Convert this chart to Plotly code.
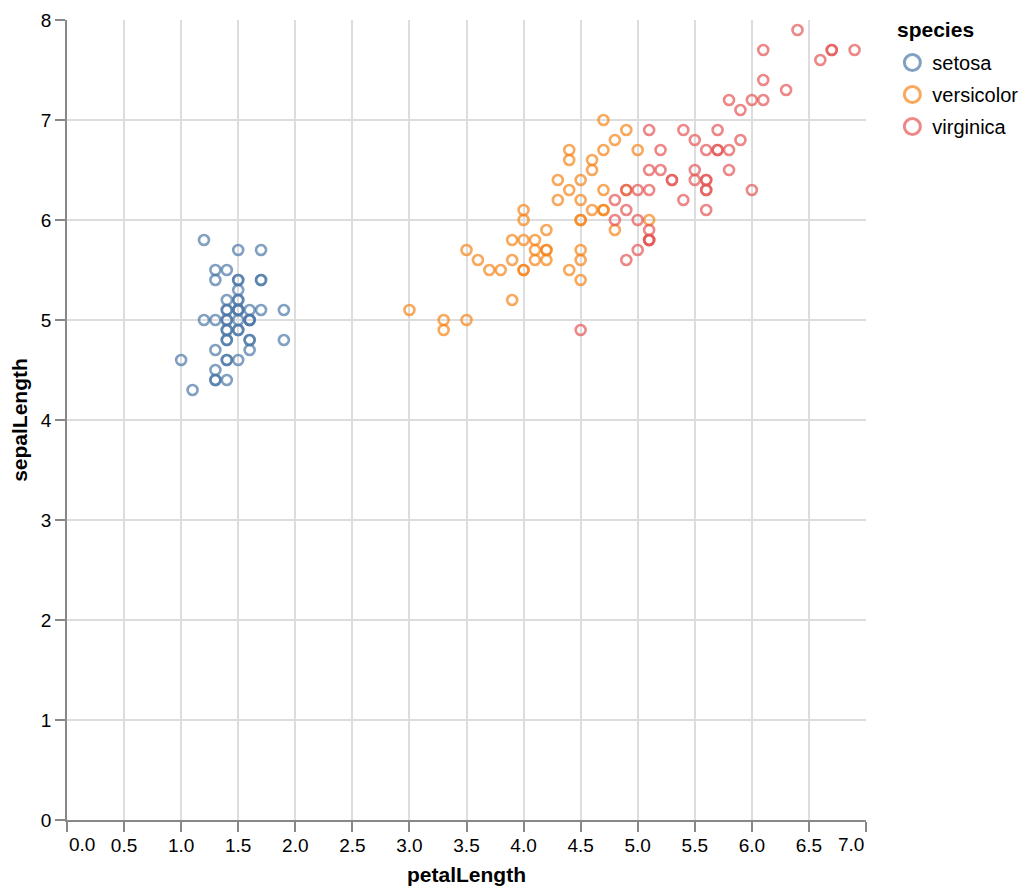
import plotly.graph_objects as go

species_names = ["setosa", "versicolor", "virginica"]
colors = ["#4c78a8", "#f58518", "#e45756"]

setosa_petal = [1.4,1.4,1.3,1.5,1.4,1.7,1.4,1.5,1.4,1.5,1.5,1.6,1.4,1.1,1.2,1.5,1.3,1.4,1.7,1.5,
                1.7,1.5,1.0,1.7,1.9,1.6,1.6,1.5,1.4,1.6,1.6,1.5,1.5,1.4,1.5,1.2,1.3,1.4,1.3,1.5,
                1.3,1.3,1.3,1.6,1.9,1.4,1.6,1.4,1.5,1.4]
setosa_sepal = [5.1,4.9,4.7,4.6,5.0,5.4,4.6,5.0,4.4,4.9,5.4,4.8,4.8,4.3,5.8,5.7,5.4,5.1,5.7,5.1,
                5.4,5.1,4.6,5.1,4.8,5.0,5.0,5.2,5.2,4.7,4.8,5.4,5.2,5.5,4.9,5.0,5.5,4.9,4.4,5.1,
                5.0,4.5,4.4,5.0,5.1,4.8,5.1,4.6,5.3,5.0]

versicolor_petal = [4.7,4.5,4.9,4.0,4.6,4.5,4.7,3.3,4.6,3.9,3.5,4.2,4.0,4.7,3.6,4.4,4.5,4.1,4.5,3.9,
                    4.8,4.0,4.9,4.7,4.3,4.4,4.8,5.0,4.5,3.5,3.8,3.7,3.9,5.1,4.5,4.5,4.7,4.4,4.1,4.0,
                    4.4,4.6,4.0,3.3,4.2,4.2,4.2,4.3,3.0,4.1]
versicolor_sepal = [7.0,6.4,6.9,5.5,6.5,5.7,6.3,4.9,6.6,5.2,5.0,5.9,6.0,6.1,5.6,6.7,5.6,5.8,6.2,5.6,
                    5.9,6.1,6.3,6.1,6.4,6.6,6.8,6.7,6.0,5.7,5.5,5.5,5.8,6.0,5.4,6.0,6.7,6.3,5.6,5.5,
                    5.5,6.1,5.8,5.0,5.6,5.7,5.7,6.2,5.1,5.7]

virginica_petal = [6.0,5.1,5.9,5.6,5.8,6.6,4.5,6.3,5.8,6.1,5.1,5.3,5.5,5.0,5.1,5.3,5.5,6.7,6.9,5.0,
                   5.7,4.9,6.7,4.9,5.7,6.0,4.8,4.9,5.6,5.8,6.1,6.4,5.6,5.1,5.6,6.1,5.6,5.5,4.8,5.4,
                   5.6,5.1,5.1,5.9,5.7,5.2,5.0,5.2,5.4,5.1]
virginica_sepal = [6.3,5.8,7.1,6.3,6.5,7.6,4.9,7.3,6.7,7.2,6.5,6.4,6.8,5.7,5.8,6.4,6.5,7.7,7.7,6.0,
                   6.9,5.6,7.7,6.3,6.7,7.2,6.2,6.1,6.4,7.2,7.4,7.9,6.4,6.3,6.1,7.7,6.3,6.4,6.0,6.9,
                   6.7,6.9,5.8,6.8,6.7,6.7,6.3,6.5,6.2,5.9]

x_ticks = [0.0,0.5,1.0,1.5,2.0,2.5,3.0,3.5,4.0,4.5,5.0,5.5,6.0,6.5,7.0]
y_ticks = [0,1,2,3,4,5,6,7,8]
x_title = "petalLength"
y_title = "sepalLength"
legend_title = "species"

series = [(setosa_petal, setosa_sepal), (versicolor_petal, versicolor_sepal), (virginica_petal, virginica_sepal)]

fig = go.Figure()
for name, color, (px_, sy) in zip(species_names, colors, series):
    fig.add_trace(go.Scatter(
        x=px_, y=sy, mode="markers", name=name, legendgroup=name, showlegend=False,
        marker=dict(symbol="circle-open", size=10, color=color, opacity=0.7,
                    line=dict(width=2.6, color=color)),
        hoverinfo="skip",
    ))
for name, color in zip(species_names, colors):
    fig.add_trace(go.Scatter(
        x=[None], y=[None], mode="markers", name=name, legendgroup=name, showlegend=True,
        marker=dict(symbol="circle-open", size=16, color=color, opacity=0.7,
                    line=dict(width=3, color=color)),
        hoverinfo="skip",
    ))

# Flush first/last x tick labels (Vega-Lite style)
x_ticktext = [f"{v:.1f}" for v in x_ticks]
x_ticktext_axis = [("" if i in (0, len(x_ticks) - 1) else t) for i, t in enumerate(x_ticktext)]

font_family = "Liberation Sans, Arial, sans-serif"
fig.update_layout(
    width=1024, height=886,
    margin=dict(l=59, r=166, t=12, b=74, autoexpand=False),
    paper_bgcolor="white", plot_bgcolor="white",
    font=dict(family=font_family, size=20, color="#000"),
    legend=dict(
        x=1.033, y=0.97125, xanchor="left", yanchor="top",
        font=dict(size=20), itemsizing="trace", traceorder="grouped", tracegroupgap=3,
    ),
    xaxis=dict(
        range=[0, 7], tickvals=x_ticks, ticktext=x_ticktext_axis,
        showgrid=True, gridcolor="#ddd", gridwidth=1.5, zeroline=False,
        showline=True, linecolor="#888", linewidth=1.5,
        ticks="outside", ticklen=10, tickcolor="#888", tickwidth=1.5,
        tickfont=dict(size=19), automargin=False, ticklabelstandoff=-3,
        title=dict(text=f"<b>{x_title}</b>", font=dict(size=21), standoff=13),
    ),
    yaxis=dict(
        range=[0, 8], tickvals=y_ticks,
        showgrid=True, gridcolor="#ddd", gridwidth=1.5, zeroline=False,
        showline=True, linecolor="#888", linewidth=1.5,
        ticks="outside", ticklen=10, tickcolor="#888", tickwidth=1.5,
        tickfont=dict(size=19), automargin=False,
        title=dict(text=f"<b>{y_title}</b>", font=dict(size=21), standoff=8),
    ),
    annotations=[
        dict(x=x_ticks[0], y=0, xref="x", yref="paper", text=x_ticktext[0], showarrow=False,
             xanchor="left", yanchor="middle", yshift=-24, font=dict(size=19)),
        dict(x=x_ticks[-1], y=0, xref="x", yref="paper", text=x_ticktext[-1], showarrow=False,
             xanchor="right", yanchor="middle", yshift=-24, font=dict(size=19)),
        dict(x=1.036, y=0.9875, xref="paper", yref="paper", text=f"<b>{legend_title}</b>",
             showarrow=False, xanchor="left", yanchor="middle", font=dict(size=21)),
    ],
)

fig.write_html("out.html")
